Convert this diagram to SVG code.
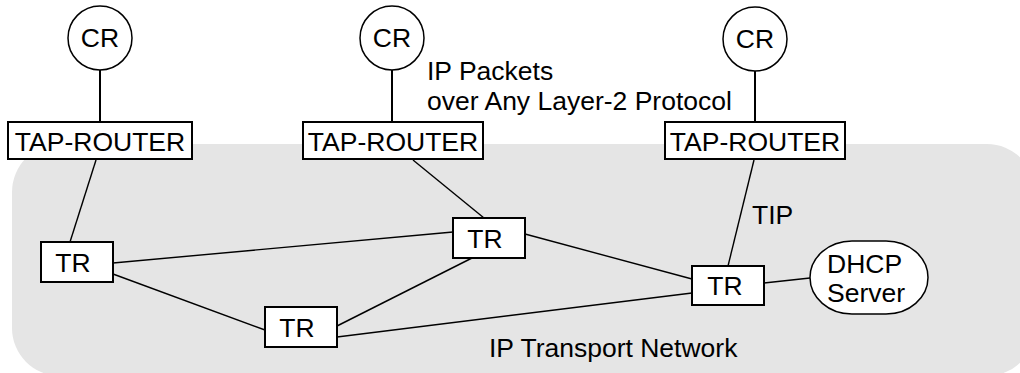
<svg xmlns="http://www.w3.org/2000/svg" width="1020" height="373" viewBox="0 0 1020 373">
<style>
text{font-family:"Liberation Sans",Arial,sans-serif;font-size:26.5px;fill:#000}
.box{fill:#fff;stroke:#000;stroke-width:2}
.cr{fill:#fff;stroke:#000;stroke-width:1.5}
.ln{stroke:#000;stroke-width:1.4;fill:none}
.thk{stroke:#000;stroke-width:2;fill:none}
</style>
<rect id="network" x="12" y="144" width="1023" height="232" rx="48" ry="48" fill="#e5e5e5"/>
<g id="connectors">
<line class="thk" x1="100" y1="70" x2="100" y2="122"/>
<line class="thk" x1="392" y1="70" x2="392" y2="122"/>
<line class="thk" x1="755" y1="71" x2="755" y2="122"/>
<line class="ln" x1="96" y1="160" x2="70" y2="242"/>
<line class="ln" x1="413" y1="160" x2="484" y2="218"/>
<line class="ln" x1="754" y1="160" x2="728" y2="266"/>
<line class="ln" x1="113" y1="263" x2="453" y2="232"/>
<line class="ln" x1="113" y1="274" x2="265" y2="330"/>
<line class="ln" x1="337" y1="326" x2="472" y2="258"/>
<line class="ln" x1="337" y1="337" x2="692" y2="293"/>
<line class="ln" x1="525" y1="234" x2="692" y2="279"/>
<line class="ln" x1="764" y1="283" x2="810" y2="278"/>
</g>
<g id="cr1"><circle class="cr" cx="100" cy="38" r="32"/><text x="100" y="47" text-anchor="middle">CR</text></g>
<g id="cr2"><circle class="cr" cx="392" cy="38" r="32"/><text x="392" y="47" text-anchor="middle">CR</text></g>
<g id="cr3"><circle class="cr" cx="755" cy="39" r="32"/><text x="755" y="48" text-anchor="middle">CR</text></g>
<g id="tap1"><rect class="box" x="8" y="122" width="184" height="37"/><text x="100" y="151" text-anchor="middle" font-size="27">TAP-ROUTER</text></g>
<g id="tap2"><rect class="box" x="303" y="122" width="180" height="37"/><text x="393" y="151" text-anchor="middle" font-size="27">TAP-ROUTER</text></g>
<g id="tap3"><rect class="box" x="665" y="122" width="180" height="37"/><text x="755" y="151" text-anchor="middle" font-size="27">TAP-ROUTER</text></g>
<g id="tr1"><rect class="box" x="41" y="242" width="72" height="40"/><text x="73" y="272" text-anchor="middle">TR</text></g>
<g id="tr2"><rect class="box" x="265" y="307" width="72" height="40"/><text x="297" y="337" text-anchor="middle">TR</text></g>
<g id="tr3"><rect class="box" x="453" y="218" width="72" height="40"/><text x="485" y="248" text-anchor="middle">TR</text></g>
<g id="tr4"><rect class="box" x="692" y="266" width="72" height="39"/><text x="725" y="295" text-anchor="middle">TR</text></g>
<g id="dhcp"><rect class="cr" x="810" y="241" width="118" height="73" rx="42" ry="36.5"/><text x="827" y="273">DHCP</text><text x="827" y="302">Server</text></g>
<g id="labels">
<text x="427" y="80">IP Packets</text>
<text x="427" y="110">over Any Layer-2 Protocol</text>
<text x="752" y="224">TIP</text>
<text x="489" y="357">IP Transport Network</text>
</g>
</svg>
